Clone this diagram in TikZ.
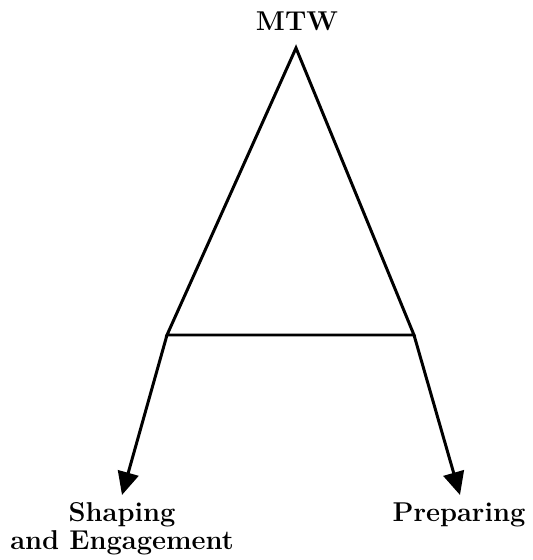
\documentclass[tikz,border=0pt]{standalone}
\usepackage{tikz}
\usetikzlibrary{positioning,arrows.meta}

\begin{document}
\begin{tikzpicture}[
          leg/.style={line width=1.7pt, line join=miter},
          goal/.style={font=\fontsize{15.5}{16}\selectfont\bfseries, inner sep=0pt, align=center},
          flow/.style={leg, -{Triangle[length=0.46cm, width=0.42cm]}},
        ]
        \useasboundingbox (0,0) rectangle (10.64,11.2);
        \coordinate (apex) at (5.92,10.24);
        \coordinate (lfoot) at (3.34,4.5);
        \coordinate (rfoot) at (8.28,4.5);
        \coordinate (ltip) at (2.44,1.3);
        \coordinate (rtip) at (9.2,1.3);
        \draw[leg] (lfoot) -- (apex) -- (rfoot) -- cycle;
        \draw[flow] (lfoot) -- (ltip);
        \draw[flow] (rfoot) -- (rtip);
        \node[goal, anchor=base] (mtw) at (5.94,10.58) {MTW};
        \node[goal, anchor=north] (shaping) at (2.44,1.16) {Shaping\\and Engagement};
        \node[goal, anchor=north] (prep) at (9.18,1.16) {Preparing};
      \end{tikzpicture}
\end{document}
